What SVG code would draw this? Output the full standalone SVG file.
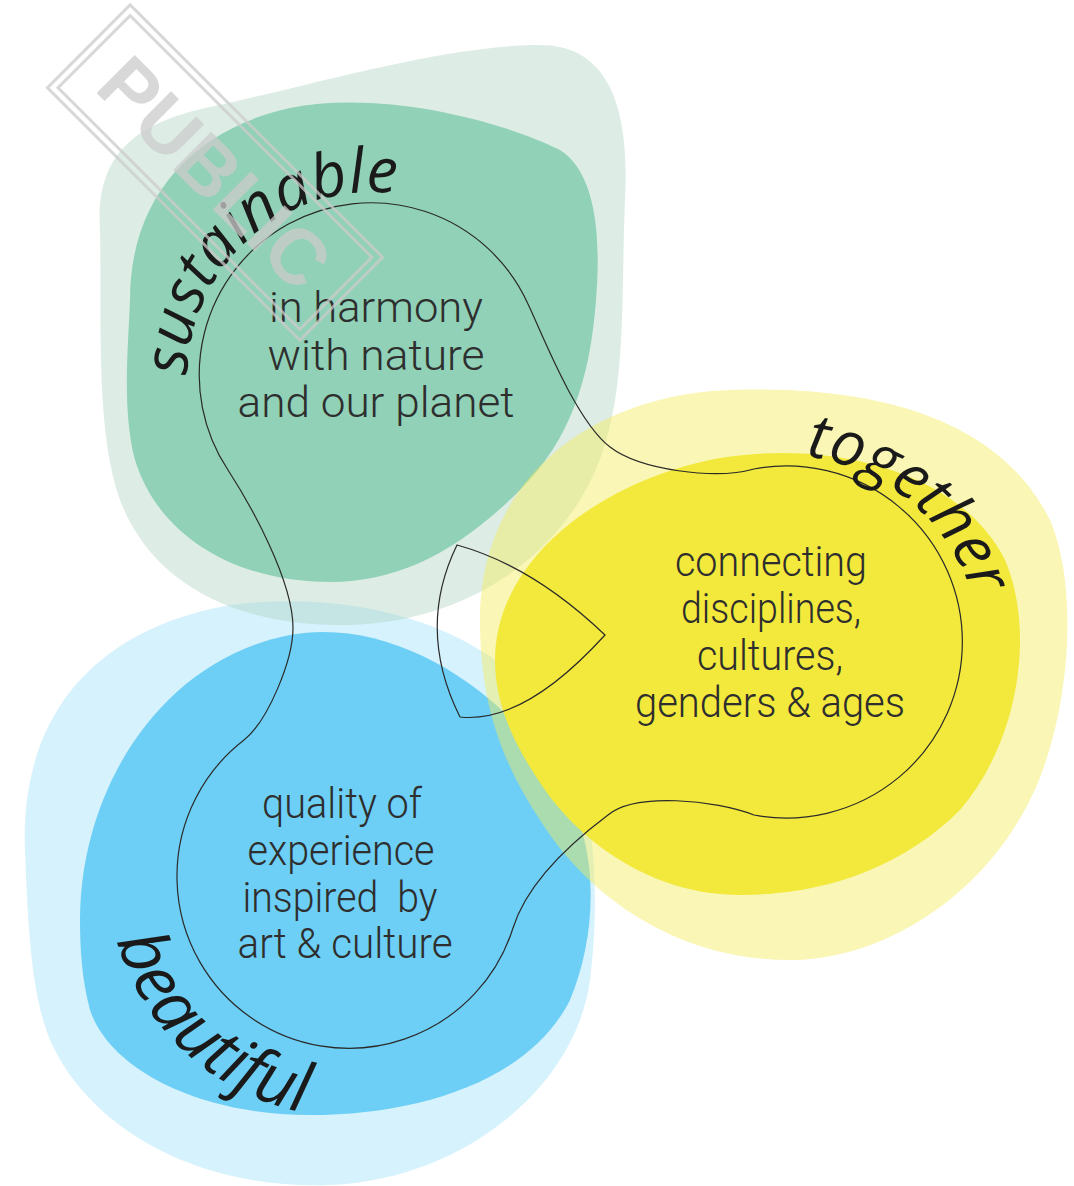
<svg xmlns="http://www.w3.org/2000/svg" xmlns:xlink="http://www.w3.org/1999/xlink" width="1074" height="1186" viewBox="0 0 1074 1186">
  <style>
    .body { font-family: Roboto, "Open Sans", "Liberation Sans", sans-serif; font-weight: 300; font-size: 43px; fill: #2e2e2e; text-anchor: middle; white-space: pre; }
    .title { font-family: "Open Sans", "Noto Sans", "DejaVu Sans", sans-serif; font-style: italic; font-weight: 400; font-size: 62px; fill: #1a1a1a; }
    .outline { fill: none; stroke: #2a2a2a; stroke-width: 1.2; }
    .wm { fill: none; stroke: #cccccc; stroke-width: 3; }
  </style>
  <defs>
    <path id="arc-sus" d="M211.8,469.5 A185,185 0 0 1 513.7,258.1"/>
    <path id="arc-tog" d="M692,476 A200,200 0 0 1 961,743"/>
    <path id="arc-bea" d="M122.6,792.2 A242,242 0 0 0 471,1084.6"/>
  </defs>
  <rect width="1074" height="1186" fill="#ffffff"/>

  <g id="blobs">
    <path id="blue-light" fill="#6dcff5" opacity="0.28" d="M25,850 C20,720 90,630 230,605 C350,590 470,620 540,700 C600,770 600,900 590,980 C575,1090 460,1180 330,1185 C200,1190 90,1130 50,1040 C30,990 28,920 25,850 Z"/>
    <path id="green-light" fill="#a9d2bd" opacity="0.4" d="M100,230 C95,150 140,120 220,105 C330,80 450,45 540,45 C610,45 630,110 625,200 C620,320 630,420 580,500 C530,580 440,625 340,625 C230,625 150,580 120,500 C95,430 102,320 100,230 Z"/>
    <path id="blue-dark" fill="#6dcff5" d="M80,920 C80,790 160,660 290,635 C400,615 520,700 570,800 C600,860 595,940 570,1000 C530,1080 420,1115 310,1115 C200,1115 110,1070 90,1010 C82,980 80,950 80,920 Z"/>
    <path id="green-dark" fill="#90d1b7" d="M130,300 C130,200 190,130 290,108 C380,90 500,120 560,150 C600,175 600,250 596,300 C590,380 570,440 520,490 C460,550 400,582 330,582 C240,582 160,540 135,460 C122,410 128,350 130,300 Z"/>
    <path id="yellow-light" fill="#f5ea5a" opacity="0.45" d="M480,620 C480,480 590,395 730,390 C880,385 1000,420 1050,520 C1080,590 1070,720 1030,800 C980,900 880,960 790,960 C680,960 590,900 540,820 C500,760 480,700 480,620 Z"/>
    <path id="yellow-dark" fill="#f2e93c" d="M495,660 C495,560 600,480 720,458 C830,440 960,470 1005,560 C1035,630 1020,740 960,810 C900,870 820,895 740,895 C650,895 580,840 545,790 C510,740 495,700 495,660 Z"/>
  </g>

  <g id="connectors">
    <path class="outline" d="M228,470 A172,172 0 1 1 528,304 C541,331 575,420 610,447 C640,470 715,480 754,469 A176,176 0 1 1 754,815 C715,800 635,792 608,815 C560,851 525,890 513,928 A172,172 0 1 1 244,740 C268,721 293,660 293,628 C293,580 250,504 228,470 Z"/>
    <path class="outline" d="M457,545 Q533,566 605,635 Q524,724 460,717 Q416,629 457,545 Z"/>
  </g>

  <g id="node-sustainable">
    <text class="title"><textPath xlink:href="#arc-sus" href="#arc-sus" startOffset="255" text-anchor="middle">sustainable</textPath></text>
    <text class="body" x="376" y="322" textLength="214" lengthAdjust="spacingAndGlyphs">in harmony</text>
    <text class="body" x="376" y="370" textLength="217" lengthAdjust="spacingAndGlyphs">with nature</text>
    <text class="body" x="376" y="417" textLength="277" lengthAdjust="spacingAndGlyphs">and our planet</text>
  </g>

  <g id="node-together">
    <text class="title"><textPath xlink:href="#arc-tog" href="#arc-tog" startOffset="232" text-anchor="middle">together</textPath></text>
    <text class="body" x="771" y="576" textLength="192" lengthAdjust="spacingAndGlyphs">connecting</text>
    <text class="body" x="771" y="623" textLength="180" lengthAdjust="spacingAndGlyphs">disciplines,</text>
    <text class="body" x="770" y="670" textLength="146" lengthAdjust="spacingAndGlyphs">cultures,</text>
    <text class="body" x="770" y="717" textLength="270" lengthAdjust="spacingAndGlyphs">genders &amp; ages</text>
  </g>

  <g id="node-beautiful">
    <text class="title" style="font-size:68px"><textPath xlink:href="#arc-bea" href="#arc-bea" startOffset="285" text-anchor="middle">beautiful</textPath></text>
    <text class="body" x="342" y="818" textLength="160" lengthAdjust="spacingAndGlyphs">quality of</text>
    <text class="body" x="341" y="865" textLength="187" lengthAdjust="spacingAndGlyphs">experience</text>
    <text class="body" x="340" y="912" textLength="195" lengthAdjust="spacingAndGlyphs">inspired  by</text>
    <text class="body" x="345" y="958" textLength="215" lengthAdjust="spacingAndGlyphs">art &amp; culture</text>
  </g>

  <g id="watermark" transform="rotate(45 215 172.5)" opacity="0.75">
    <rect class="wm" x="36.5" y="114" width="357" height="117"/>
    <rect class="wm" x="44" y="121.5" width="342" height="102" stroke-width="2"/>
    <text x="215" y="200" text-anchor="middle" font-family="'Liberation Sans', Arial, sans-serif" font-weight="bold" font-size="78" fill="#cccccc">PUBLIC</text>
  </g>
</svg>
